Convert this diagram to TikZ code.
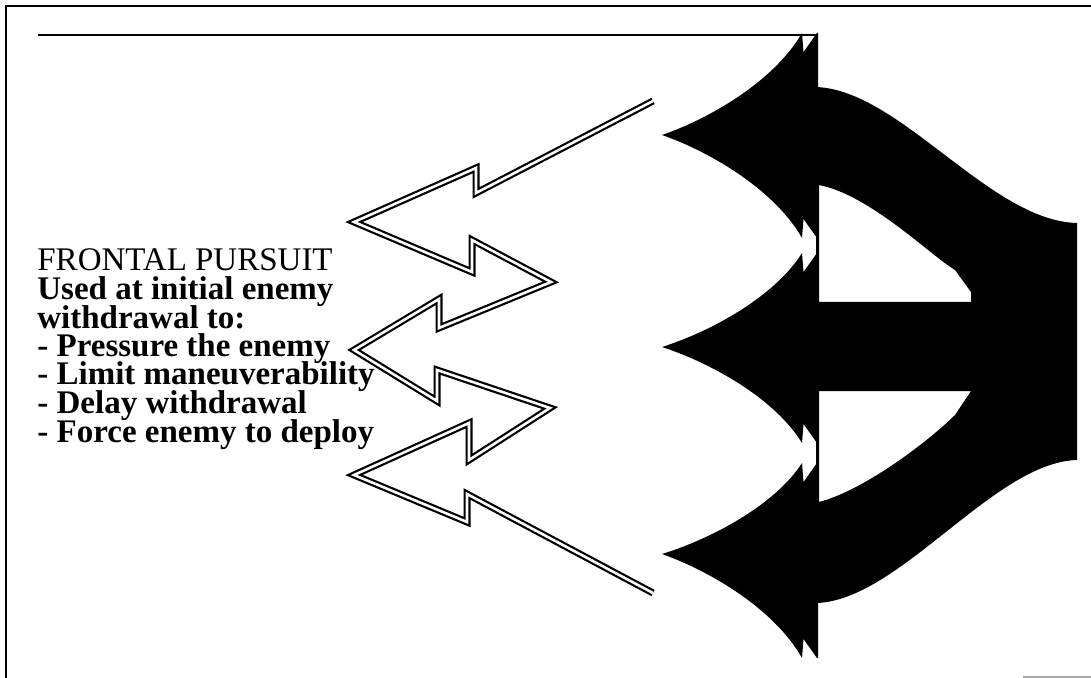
\documentclass[tikz,border=0pt]{standalone}
\usepackage{fontspec}
\setmainfont{Liberation Serif}
\definecolor{ink}{HTML}{000000}
\definecolor{paper}{HTML}{FFFFFF}
\definecolor{scan}{HTML}{A8A8A8}
\setlength{\lineskiplimit}{-100pt}
\tikzset{
  frameline/.style={draw=ink, line width=1pt},
  rule/.style={draw=ink, line width=0.75pt},
  zigzag/.style={
    draw=ink,
    line width=1.1pt,
    double=paper,
    double distance=1.3pt,
    miter limit=20
  },
  blackshape/.style={fill=ink, draw=none},
  labeltext/.style={
    font=\fontsize{16.5}{14.25}\selectfont\bfseries,
    text=ink,
    align=left,
    inner sep=0pt
  }
}
\begin{document}
\begin{tikzpicture}[x=0.5pt,y=-0.5pt]
  \useasboundingbox (0,0) rectangle (1091,678);
  \fill[paper] (0,0) rectangle (1091,678);

  % frame
  \draw[frameline] (6,678) -- (6,6) -- (1091,6);
  \draw[scan, line width=0.6pt] (1023,677) -- (1091,677);
  \draw[rule] (38,35) -- (817,35);

  % solid three-headed arrow
  \fill[blackshape, even odd rule]
    (816,87) .. controls (900,90) and (990,221) .. (1077,223) -- (1077,460)
      .. controls (994,462) and (899,601) .. (816,603) -- cycle
    (819,185) .. controls (870,195) and (930,255) .. (955,270) -- (971,292) -- (971,302) -- (819,302) -- cycle
    (819,391) -- (971,391) -- (955,415) .. controls (930,440) and (865,490) .. (819,502) -- cycle;
  \foreach \tip/\up/\low in {135/33/238, 347/253/443, 554/463/658}{
    \fill[blackshape] (662,\tip)
      .. controls (712,{\tip+0.17*(\up-\tip)}) and (775,{\tip+0.54*(\up-\tip)}) .. (802,\up)
      -- (803.5,\up+19) -- (817,\up) -- (818,\up) -- (818,\low) -- (817,\low) -- (803.5,\low-19) -- (802,\low)
      .. controls (775,{\tip+0.54*(\low-\tip)}) and (712,{\tip+0.17*(\low-\tip)}) .. (662,\tip) -- cycle;
  }

  % open zigzag arrows
  \draw[zigzag] (653,101) -- (476,193) -- (476,168) -- (354,222) -- (472,272) -- (472,240)
    -- (551,282) -- (439,328) -- (439,299) -- (354,350) -- (437,401) -- (437,370)
    -- (550,408) -- (469,460) -- (469,423) -- (354,475) -- (467,522) -- (467,494) -- (653,593);

  \node[labeltext, anchor=base west] (pursuit) at (37,442) {\mdseries FRONTAL PURSUIT\\
    Used at initial enemy\\
    withdrawal to:\\
    - Pressure the enemy\\
    - Limit maneuverability\\
    - Delay withdrawal\\
    - Force enemy to deploy};
\end{tikzpicture}
\end{document}
